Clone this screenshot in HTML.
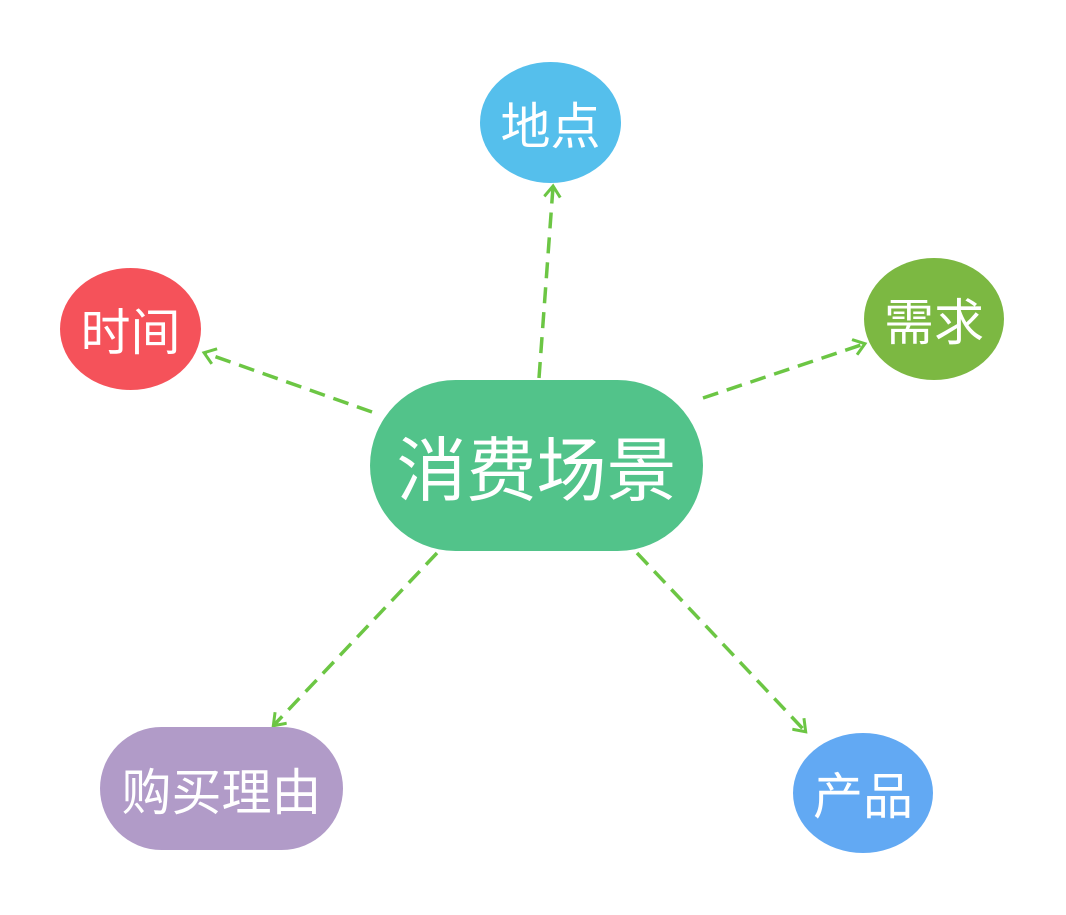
<!DOCTYPE html>
<html><head><meta charset="utf-8"><style>
html,body{margin:0;padding:0;background:#fff;}
body{width:1066px;height:915px;position:relative;overflow:hidden;font-family:"Liberation Sans","Noto Sans CJK SC",sans-serif;}
.n{position:absolute;color:#fff;display:flex;align-items:center;justify-content:center;white-space:nowrap;}
svg{position:absolute;left:0;top:0;}
</style></head><body>
<svg width="1066" height="915">
<defs><marker id="a" markerWidth="18" markerHeight="18" refX="12" refY="9" orient="auto" markerUnits="userSpaceOnUse">
<path d="M2,1 L13,9 L2,17" fill="none" stroke="#6cc644" stroke-width="3"/></marker></defs>
<g stroke="#6cc644" stroke-width="3.5" stroke-dasharray="16,9" fill="none" marker-end="url(#a)">
<line x1="539" y1="378" x2="553" y2="187"/>
<line x1="372" y1="412" x2="205" y2="353"/>
<line x1="703" y1="398" x2="864" y2="344"/>
<line x1="437" y1="553" x2="274" y2="725"/>
<line x1="637" y1="553" x2="805" y2="731"/>
</g>
</svg>
<div class="n" style="left:370px;top:380px;width:333px;height:171px;border-radius:86px;background:#52c38a;font-size:70px;">消费场景</div>
<div class="n" style="left:480px;top:62px;width:141px;height:121px;border-radius:50%;background:#55bfec;font-size:50px;">地点</div>
<div class="n" style="left:60px;top:268px;width:141px;height:122px;border-radius:50%;background:#f5525a;font-size:50px;">时间</div>
<div class="n" style="left:864px;top:258px;width:140px;height:122px;border-radius:50%;background:#7cb842;font-size:50px;">需求</div>
<div class="n" style="left:100px;top:727px;width:243px;height:123px;border-radius:62px;background:#b19bc8;font-size:50px;">购买理由</div>
<div class="n" style="left:793px;top:733px;width:140px;height:120px;border-radius:50%;background:#62a9f3;font-size:50px;">产品</div>
</body></html>
